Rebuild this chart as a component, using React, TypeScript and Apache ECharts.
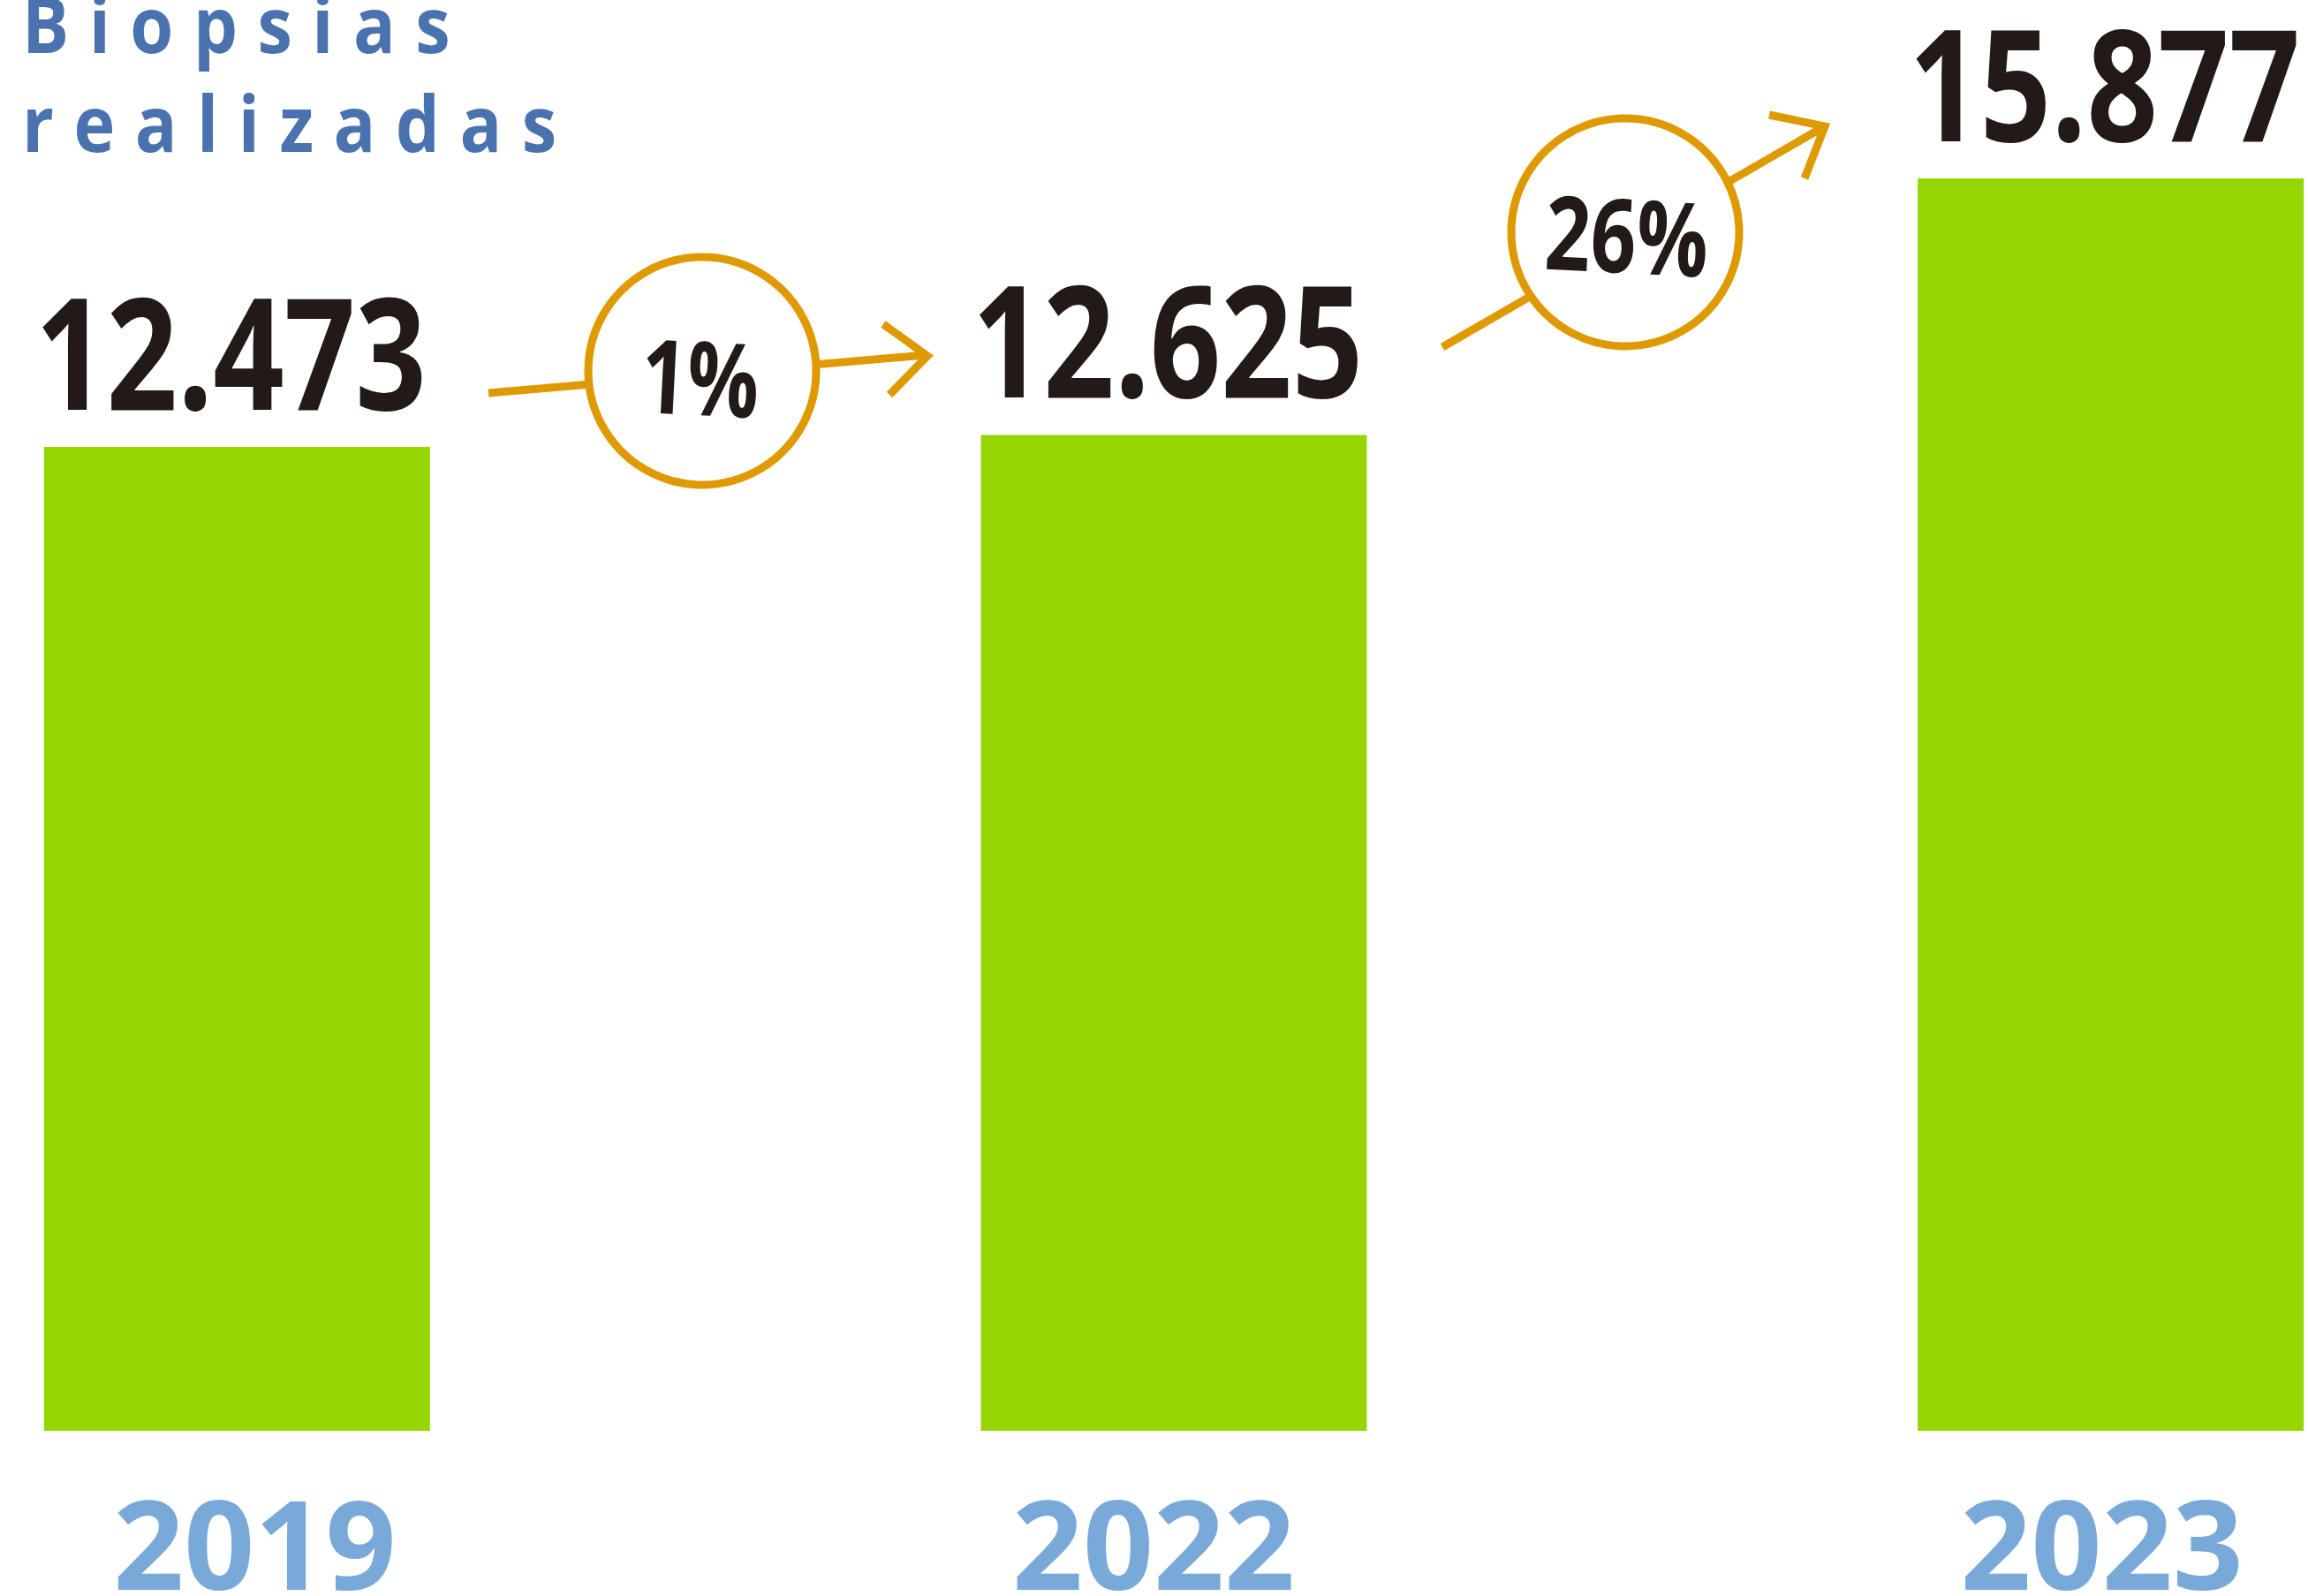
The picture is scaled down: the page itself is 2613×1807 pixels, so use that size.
import React, { useEffect, useRef } from "react";
import * as echarts from "echarts";

const years = ["2019", "2022", "2023"];
const biopsias = [12473, 12625, 15877];
const titleLines = ["Biopsias", "realizadas"];

const SANS = "'Open Sans', 'Noto Sans', 'Liberation Sans', sans-serif";
const GREEN = "#95D600";
const ORANGE = "#DE9A00";
const DARK = "#221A16";
const TITLE_BLUE = "#4A72AF";
const YEAR_BLUE = "#78A9D9";

// the chart canvas is wider than the page so the three category bands line up with the reference
const SHIFT = 262;
const CANVAS_W = 3182;

const fmt = (v: number) => String(v).replace(/\B(?=(\d{3})+(?!\d))/g, ".");
const pct = (a: number, b: number) => Math.round(((b - a) / a) * 100) + "%";

export default function App() {
  const ref = useRef<HTMLDivElement>(null);
  useEffect(() => {
    if (!ref.current) return;
    const chart = echarts.init(ref.current, null, { renderer: "svg" });
    const maxV = Math.max(...biopsias);
    const nudge = [20, -23, -10];
    chart.setOption({
      animation: false,
      backgroundColor: "#ffffff",
      grid: { left: 0, right: 0, top: 202, bottom: 187, containLabel: false, outerBoundsMode: "none" },
      xAxis: {
        type: "category",
        data: years.map((y, i) => ({
          value: y,
          textStyle: {
            padding: nudge[i] > 0 ? [0, 0, 0, 2 * nudge[i]] : [0, -2 * nudge[i], 0, 0],
          },
        })),
        axisLine: { show: false },
        axisTick: { show: false },
        axisLabel: {
          show: true,
          color: YEAR_BLUE,
          fontSize: 140,
          fontWeight: "bold",
          fontFamily: SANS,
          lineHeight: 100,
          margin: 75,
        },
      },
      yAxis: {
        type: "value",
        min: 0,
        max: maxV,
        show: false,
        splitLine: { show: false },
      },
      series: [
        {
          type: "bar",
          data: biopsias,
          barWidth: 437,
          itemStyle: { color: GREEN },
        },
        {
          type: "custom",
          data: biopsias.map((v, i) => [i, v]),
          renderItem: (params: any, api: any) => {
            const v = api.value(1);
            const p = api.coord([api.value(0), v]);
            return {
              type: "text",
              x: p[0] - 7,
              y: p[1] - 110,
              scaleX: 0.8,
              style: {
                text: fmt(v),
                fontSize: 176,
                fontWeight: "bold",
                fontFamily: SANS,
                fill: DARK,
                align: "center",
                verticalAlign: "middle",
              },
            };
          },
          z: 5,
        },
      ],
      graphic: [
        {
          type: "group",
          x: SHIFT,
          y: 0,
          children: [
            { type: "text", x: 25, y: 26, scaleX: 0.9, style: { text: titleLines[0], fontSize: 88, lineHeight: 88, fontWeight: "bold", fontFamily: SANS, fill: TITLE_BLUE, align: "left", verticalAlign: "middle" } },
            { type: "text", x: 25, y: 138, scaleX: 0.9, style: { text: titleLines[1], fontSize: 88, lineHeight: 88, fontWeight: "bold", fontFamily: SANS, fill: TITLE_BLUE, align: "left", verticalAlign: "middle" } },
            // arrow 1
            { type: "line", shape: { x1: 553, y1: 445, x2: 1048, y2: 402 }, style: { stroke: ORANGE, lineWidth: 9 } },
            { type: "polyline", shape: { points: [[1000, 367], [1050, 403], [1007, 447]] }, style: { stroke: ORANGE, lineWidth: 9, fill: null } },
            { type: "circle", shape: { cx: 795, cy: 420, r: 129 }, style: { fill: "#ffffff", stroke: ORANGE, lineWidth: 9 } },
            { type: "text", x: 793, y: 425, rotation: -0.05, scaleX: 0.78, style: { text: pct(biopsias[0], biopsias[1]), fontSize: 116, fontWeight: "bold", fontFamily: SANS, fill: DARK, align: "center", verticalAlign: "middle" } },
            // arrow 2
            { type: "line", shape: { x1: 1633, y1: 393, x2: 2064, y2: 144 }, style: { stroke: ORANGE, lineWidth: 9 } },
            { type: "polyline", shape: { points: [[2003, 130], [2066, 143], [2043, 202]] }, style: { stroke: ORANGE, lineWidth: 9, fill: null } },
            { type: "circle", shape: { cx: 1840, cy: 263, r: 129 }, style: { fill: "#ffffff", stroke: ORANGE, lineWidth: 9 } },
            { type: "text", x: 1842, y: 264, rotation: -0.05, scaleX: 0.78, style: { text: pct(biopsias[1], biopsias[2]), fontSize: 116, fontWeight: "bold", fontFamily: SANS, fill: DARK, align: "center", verticalAlign: "middle" } },
          ],
        },
      ],
    });
    // the reference title is set with wide letter spacing
    const texts = ref.current.querySelectorAll("text");
    texts.forEach((t) => {
      const s = (t.textContent || "").trim();
      if (s === titleLines[0] || s === titleLines[1]) {
        t.setAttribute("letter-spacing", "25");
      }
    });
    return () => chart.dispose();
  }, []);
  return (
    <div style={{ position: "absolute", left: 0, top: 0, width: 2613, height: 1807, overflow: "hidden", background: "#fff" }}>
      <div
        ref={ref}
        style={{ position: "absolute", left: -SHIFT, top: 0, width: CANVAS_W, height: 1807 }}
      />
    </div>
  );
}
